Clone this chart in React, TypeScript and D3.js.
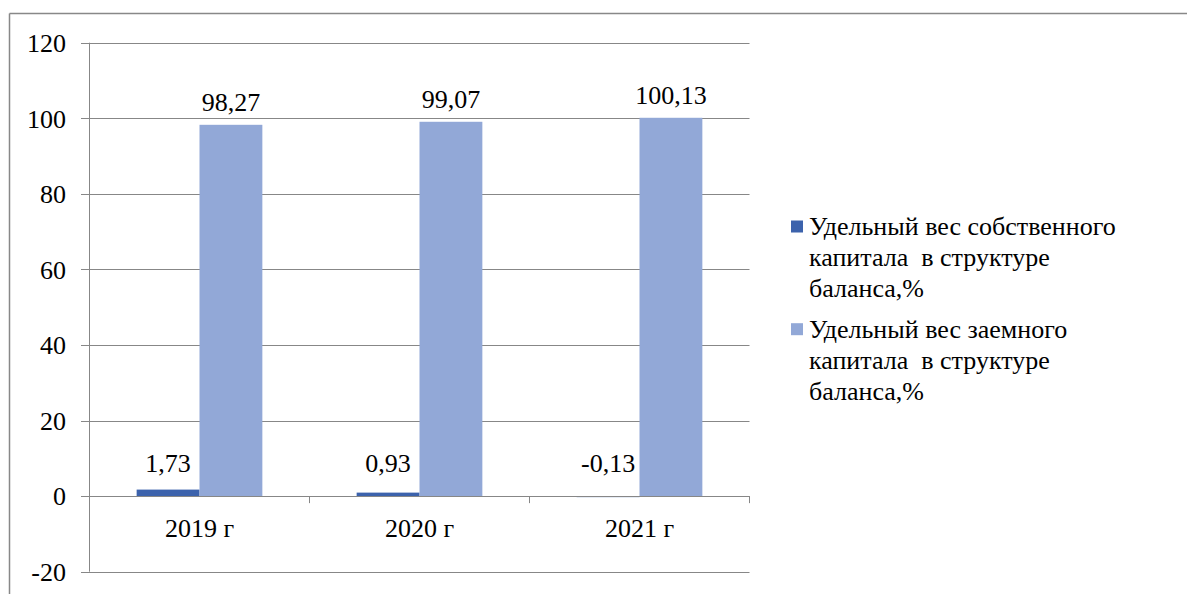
import React from "react";
import * as d3 from "d3";

const categories = ["2019 г", "2020 г", "2021 г"];
const ownShare = [1.73, 0.93, -0.13];
const debtShare = [98.27, 99.07, 100.13];
const yTicks = [-20, 0, 20, 40, 60, 80, 100, 120];
const seriesNames = [
  ["Удельный вес собственного", "капитала  в структуре", "баланса,%"],
  ["Удельный вес заемного", "капитала  в структуре", "баланса,%"],
];
const colors = ["#3C62AC", "#92A8D7"];

const W = 1187;
const H = 594;
const FONT = "'Liberation Serif', 'Times New Roman', 'DejaVu Serif', serif";
const fmt = (v: number) => v.toFixed(2).replace(".", ",");
const txt: React.CSSProperties = { fontFamily: FONT, fontSize: 26, whiteSpace: "pre" };

export default function App() {
  const left = 89.5;
  const right = 749.5;
  const y = d3.scaleLinear().domain([-20, 120]).range([571.7, 42.7]);
  const x = d3.scaleBand<string>().domain(categories).range([left, right]).padding(0);
  const inner = d3
    .scaleBand<string>()
    .domain(["own", "debt"])
    .range([0, x.bandwidth()])
    .paddingInner(0)
    .paddingOuter(0.75);
  const series = [
    { key: "own", values: ownShare, color: colors[0] },
    { key: "debt", values: debtShare, color: colors[1] },
  ];
  const y0 = y(0);
  const gridColor = "#878787";

  return (
    <svg
      width={W}
      height={H}
      style={{ position: "absolute", left: 0, top: 0, background: "#fff" }}
    >
      <line x1={9.5} y1={13.5} x2={W} y2={13.5} stroke="#888" strokeWidth={1.5} />
      <line x1={9.5} y1={13.5} x2={9.5} y2={H} stroke="#888" strokeWidth={1.5} />

      {yTicks.map((t) => (
        <g key={t}>
          <line
            x1={81}
            x2={right}
            y1={Math.round(y(t)) + 0.5}
            y2={Math.round(y(t)) + 0.5}
            stroke={gridColor}
            strokeWidth={1}
          />
          <text x={66} y={y(t) + 9.3} textAnchor="end" style={txt} fill="#000">
            {t}
          </text>
        </g>
      ))}
      <line x1={left} x2={left} y1={y(120)} y2={y(-20)} stroke={gridColor} />

      {series.map((s) =>
        categories.map((c, i) => {
          const v = s.values[i];
          const bx = (x(c) as number) + (inner(s.key) as number);
          const top = Math.min(y(v), y0);
          const h = Math.max(Math.abs(y(v) - y0), 1);
          return (
            <rect
              key={s.key + c}
              x={bx}
              y={top}
              width={inner.bandwidth()}
              height={h}
              fill={s.color}
            />
          );
        })
      )}

      <line x1={81} x2={right} y1={Math.round(y0) + 0.5} y2={Math.round(y0) + 0.5} stroke={gridColor} />
      {[...categories.map((c) => x(c) as number), right].map((px, i) => (
        <line key={i} x1={px} x2={px} y1={y0} y2={y0 + 7} stroke={gridColor} />
      ))}

      {categories.map((c) => (
        <text
          key={c}
          x={(x(c) as number) + x.bandwidth() / 2}
          y={537}
          textAnchor="middle"
          style={txt}
          fill="#000"
        >
          {c}
        </text>
      ))}

      {series.map((s) =>
        categories.map((c, i) => {
          const v = s.values[i];
          const cx = (x(c) as number) + (inner(s.key) as number) + inner.bandwidth() / 2;
          const base = Math.abs(v) < 10 ? 472 : y(v) - 14;
          return (
            <text key={"l" + s.key + c} x={cx} y={base} textAnchor="middle" style={txt} fill="#000">
              {fmt(v)}
            </text>
          );
        })
      )}

      {seriesNames.map((lines, si) => {
        const top = 235 + si * 102.7;
        return (
          <g key={si}>
            <rect x={791} y={top - 14.5} width={12} height={12} fill={colors[si]} />
            {lines.map((ln, li) => (
              <text key={li} x={809} y={top + li * 31} style={txt} fill="#000">
                {ln}
              </text>
            ))}
          </g>
        );
      })}
    </svg>
  );
}
